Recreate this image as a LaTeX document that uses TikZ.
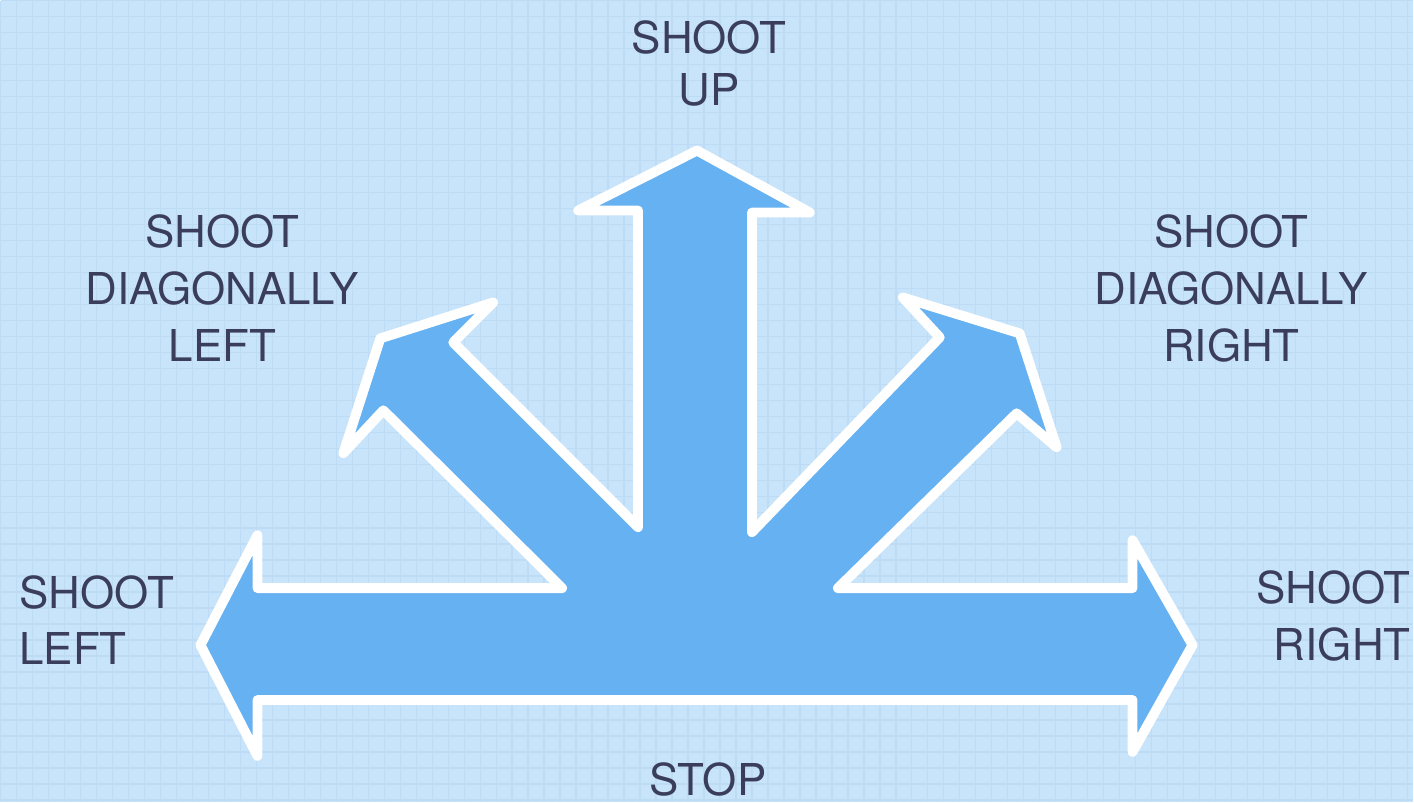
\documentclass[tikz,border=0pt]{standalone}
\usepackage{fontspec}
\setmainfont{TeX Gyre Heros}
\usepackage{tikz}
\usetikzlibrary{positioning}

\definecolor{paperblue}{HTML}{C8E4FA}
\definecolor{gridblue}{HTML}{BDDBF5}
\definecolor{arrowblue}{HTML}{66B1F1}
\definecolor{labelink}{HTML}{3A3E5C}

\begin{document}
\begin{tikzpicture}[x=0.01cm, y=-0.01cm,
            dirtext/.style={text=labelink, font=\fontsize{12.5}{16.2}\selectfont, align=center, inner sep=0pt},
            gridline/.style={gridblue, line width=0.4pt},
            arrowshape/.style={fill=arrowblue, draw=white, line width=2.8pt, line join=round}
        ]
            % squared paper
            \fill[paperblue] (0,0) rectangle (1414,802);
            \foreach \gx in {0,16,...,1414} \draw[gridline] (\gx,0) -- (\gx,802);
            \foreach \gy in {0,16,...,802} \draw[gridline] (0,\gy) -- (1414,\gy);

            % the five-way arrow
            \draw[arrowshape] (200,645) -- (257,535) -- (257,588) -- (562,588)
                -- (383,410) -- (343,453) -- (380,338) -- (493,302) -- (453,342)
                -- (638,527) -- (638,210) -- (578,210) -- (697,150) -- (810,212)
                -- (752,212) -- (752,532) -- (940,337) -- (903,297) -- (1020,333)
                -- (1057,447) -- (1017,413) -- (838,588) -- (1133,588) -- (1133,540)
                -- (1193,645) -- (1133,752) -- (1133,700) -- (257,700) -- (257,756) -- cycle;

            \node[dirtext, font=\fontsize{12.5}{14.8}\selectfont] (up) at (709,63) {SHOOT\\UP};
            \node[dirtext] (diagleft) at (222,288) {SHOOT\\DIAGONALLY\\LEFT};
            \node[dirtext] (diagright) at (1232,288) {SHOOT\\DIAGONALLY\\RIGHT};
            \node[dirtext, align=left, anchor=west] (left) at (18,620) {SHOOT\\LEFT};
            \node[dirtext, align=right, anchor=east] (right) at (1412,616) {SHOOT\\RIGHT};
            \node[dirtext] (stop) at (708,780) {STOP};
        \end{tikzpicture}
\end{document}
